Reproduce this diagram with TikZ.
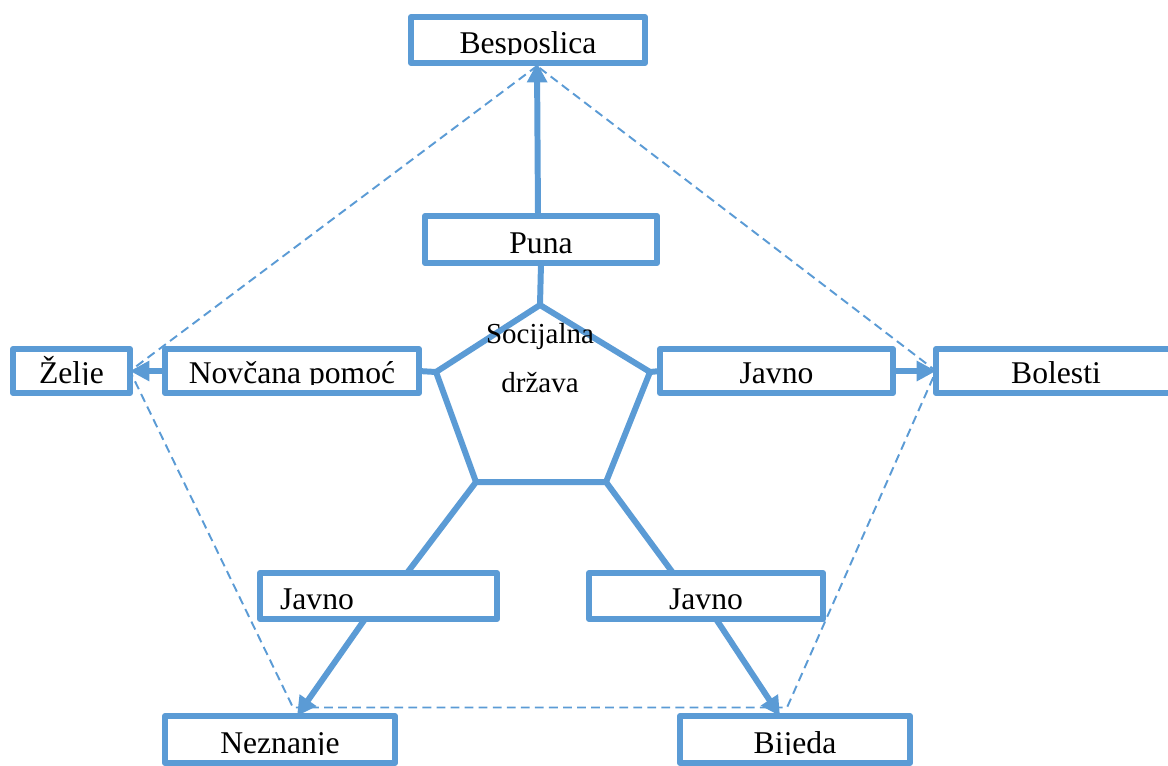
\documentclass[tikz,border=0pt]{standalone}
\usepackage{fontspec}
\setmainfont{Liberation Serif}
\usetikzlibrary{arrows.meta,calc}

\definecolor{blu}{HTML}{5B9BD5}
\newcommand{\boxfont}{\fontsize{18}{21.6}\selectfont}
\newcommand{\polyfont}{\fontsize{16.5}{19.8}\selectfont}

\tikzset{
  lbl shift/.store in=\lblshift, lbl shift=0pt,
  box/.style={draw=blu, line width=3.4pt, line join=round, inner sep=0pt, outer sep=0pt,
    path picture={
      \clip ([yshift=0.17cm]path picture bounding box.south west) rectangle (path picture bounding box.north east);
      \node[anchor=base, draw=none, inner sep=0pt, minimum size=0pt, font=\boxfont]
        at ([xshift=\lblshift,yshift=0.19cm]path picture bounding box.south) {#1};
    }},
  conn/.style={blu, line width=3.4pt},
  arr/.style={conn, -{Triangle[length=11pt,width=11pt]}},
  dashline/.style={blu, line width=1.1pt, dash pattern=on 5pt off 3pt},
}

\begin{document}
\begin{tikzpicture}[x=0.02cm,y=-0.02cm]
          \useasboundingbox (0,0) rectangle (1168,765);

          % boxes
          \node[box=Besposlica, minimum width=4.68cm, minimum height=0.92cm] (besp) at (528,40) {};
          \node[box=Puna, minimum width=4.64cm, minimum height=0.94cm] (puna) at (541,239.5) {};
          \node[box=Želje, minimum width=2.34cm, minimum height=0.88cm] (zelje) at (71.5,371) {};
          \node[box={Novčana pomoć}, minimum width=5.08cm, minimum height=0.88cm] (novcana) at (292,371) {};
          \node[box=Javno, minimum width=4.66cm, minimum height=0.88cm] (javnoR) at (776.5,371) {};
          \node[box=Bolesti, minimum width=4.8cm, minimum height=0.88cm] (bolesti) at (1056,371) {};
          \node[box=Javno, lbl shift=-1.23cm, minimum width=4.74cm, minimum height=0.92cm] (javnoL) at (378.5,596) {};
          \node[box=Javno, minimum width=4.68cm, minimum height=0.92cm] (javnoD) at (706,596) {};
          \node[box=Neznanje, minimum width=4.6cm, minimum height=0.94cm] (neznanje) at (280,739.5) {};
          \node[box=Bijeda, minimum width=4.6cm, minimum height=0.94cm] (bijeda) at (795,739.5) {};

          % dashed ring
          \draw[dashline] ([xshift=0.18cm,yshift=-0.06cm]besp.south) -- (zelje.east)
            -- ([xshift=0.26cm,yshift=0.17cm]neznanje.north) -- ([xshift=-0.16cm,yshift=0.17cm]bijeda.north)
            -- (bolesti.west) -- cycle;

          % pentagon
          \coordinate (pT) at (540,305);
          \coordinate (pUL) at (436,372);
          \coordinate (pUR) at (650,372);
          \coordinate (pLL) at (476,482);
          \coordinate (pLR) at (606,482);
          \draw[conn] (pT) -- (pUR) -- (pLR) -- (pLL) -- (pUL) -- cycle;
          \node[font=\polyfont, align=center, inner sep=0pt] (drzava) at (540,358) {Socijalna\\[0.28cm]država};

          % connectors
          \draw[conn] (pT) -- (puna.south);
          \draw[arr] ([xshift=-0.06cm]puna.north) -- ([xshift=0.18cm]besp.south);
          \draw[conn] (pUL) -- (novcana.east);
          \draw[arr] (novcana.west) -- (zelje.east);
          \draw[conn] (pUR) -- (javnoR.west);
          \draw[arr] (javnoR.east) -- (bolesti.west);
          \draw[conn] (pLL) -- ([xshift=0.57cm]javnoL.north);
          \draw[arr] ([xshift=-0.27cm]javnoL.south) -- ([xshift=0.34cm]neznanje.north);
          \draw[conn] (pLR) -- ([xshift=-0.66cm]javnoD.north);
          \draw[arr] ([xshift=0.2cm]javnoD.south) -- ([xshift=-0.3cm]bijeda.north);

\end{tikzpicture}
\end{document}
